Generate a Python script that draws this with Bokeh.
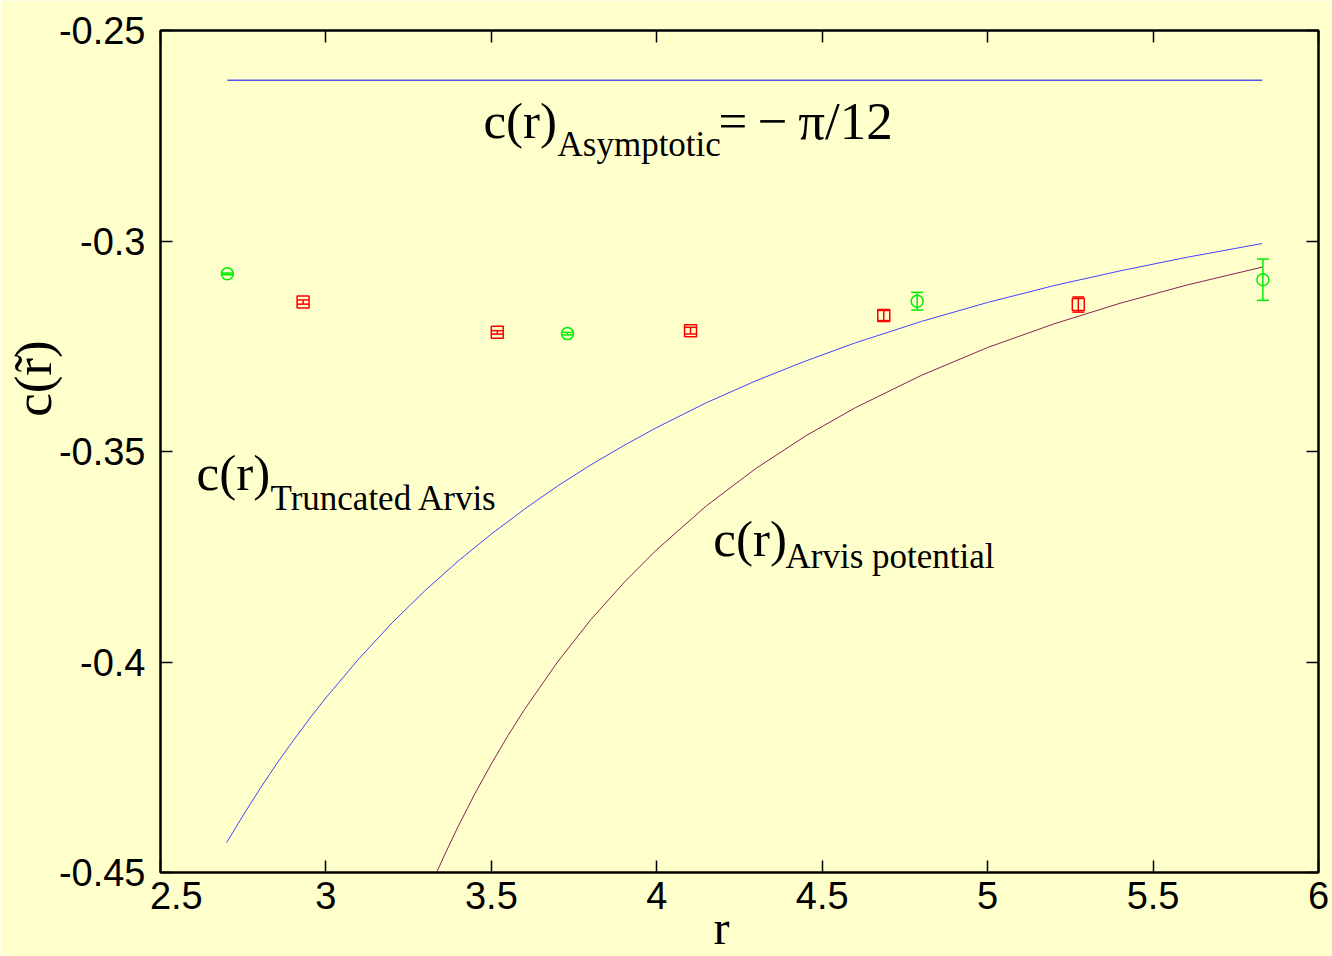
from bokeh.plotting import figure
from bokeh.models import Range1d, LinearAxis, FixedTicker, Label, Whisker, ColumnDataSource, TeeHead
from bokeh.embed import file_html
from bokeh.resources import INLINE

# ---- data ----
x_ticks = [2.5, 3, 3.5, 4, 4.5, 5, 5.5, 6]
x_tick_labels = ["\u00a0\u00a0\u00a02.5", "3", "3.5", "4", "4.5", "5", "5.5", "6"]
y_ticks = [-0.45, -0.4, -0.35, -0.3, -0.25]
y_tick_labels = ["-0.45", "-0.4", "-0.35", "-0.3", "-0.25"]
x_title = "r"
y_title = "c(r\u0303)"

green_r = [2.702, 3.730, 4.787, 5.832]
green_c = [-0.3078, -0.3220, -0.3143, -0.3092]
green_err = [0.0002, 0.0003, 0.0021, 0.0049]

red_r = [2.931, 3.518, 4.102, 4.686, 5.274]
red_c = [-0.3145, -0.3217, -0.3213, -0.3177, -0.3151]
red_err = [0.0005, 0.0004, 0.0008, 0.0012, 0.0018]

trunc_r = [2.70, 2.75, 2.80, 2.85, 2.90, 2.95, 3.00, 3.1, 3.2, 3.3, 3.4, 3.5, 3.6, 3.7, 3.8,
           3.9, 4.0, 4.15, 4.3, 4.45, 4.6, 4.8, 5.0, 5.2, 5.4, 5.6, 5.83]
trunc_c = [-0.4429, -0.4364, -0.4302, -0.4243, -0.4188, -0.4135, -0.4085, -0.3992, -0.3907,
           -0.3830, -0.3760, -0.3696, -0.3637, -0.3582, -0.3532, -0.3486, -0.3443, -0.3384,
           -0.3332, -0.3285, -0.3242, -0.3191, -0.3146, -0.3106, -0.3071, -0.3039, -0.3006]

arvis_r = [3.334, 3.36, 3.40, 3.45, 3.50, 3.55, 3.60, 3.7, 3.8, 3.9, 4.0, 4.15, 4.3, 4.45,
           4.6, 4.8, 5.0, 5.2, 5.4, 5.6, 5.83]
arvis_c = [-0.4501, -0.4456, -0.4390, -0.4313, -0.4242, -0.4175, -0.4113, -0.4000, -0.3900,
           -0.3812, -0.3733, -0.3629, -0.3540, -0.3463, -0.3396, -0.3319, -0.3253, -0.3197,
           -0.3148, -0.3105, -0.3062]

asym_r = [2.702, 5.83]
asym_c = [-0.2618, -0.2618]

BG = "#ffffcc"
SERIF = "Liberation Serif"
NB = "\u00a0"

p = figure(width=1332, height=956, x_range=Range1d(2.5, 6), y_range=Range1d(-0.45, -0.25),
           output_backend="svg", toolbar_location=None,
           background_fill_color=BG, border_fill_color=BG,
           min_border_left=160, min_border_right=14, min_border_top=30, min_border_bottom=84,
           outline_line_color="black", outline_line_width=2)
p.xgrid.visible = False
p.ygrid.visible = False


def style(ax, ticks, labels, show):
    ax.ticker = FixedTicker(ticks=ticks)
    ax.major_tick_in = 12
    ax.major_tick_out = 0
    ax.minor_tick_in = 0
    ax.minor_tick_out = 0
    ax.axis_line_width = 2
    ax.axis_line_color = "black"
    ax.major_tick_line_width = 1.5
    ax.major_tick_line_color = "black"
    ax.major_label_text_font = "Liberation Sans"
    ax.major_label_text_color = "black"
    if show:
        ax.major_label_text_font_size = "38px"
        ax.major_label_overrides = {t: l for t, l in zip(ticks, labels)}
    else:
        ax.major_label_text_font_size = "0px"
        ax.major_label_overrides = {t: "" for t in ticks}
        ax.major_label_standoff = 0


xa = p.xaxis[0]
style(xa, x_ticks, x_tick_labels, True)
xa.major_label_standoff = 2
xa.axis_label = x_title + NB * 3
xa.axis_label_text_font = SERIF
xa.axis_label_text_font_style = "normal"
xa.axis_label_text_color = "black"
xa.axis_label_text_font_size = "48px"
xa.axis_label_standoff = -19

ya = p.yaxis[0]
style(ya, y_ticks, y_tick_labels, True)
ya.major_label_standoff = 15
ya.axis_label = NB * 11 + y_title
ya.axis_label_text_font = SERIF
ya.axis_label_text_font_style = "normal"
ya.axis_label_text_color = "black"
ya.axis_label_text_font_size = "53px"
ya.axis_label_standoff = -6

top = LinearAxis()
style(top, x_ticks, x_tick_labels, False)
p.add_layout(top, "above")
right = LinearAxis()
style(right, y_ticks, y_tick_labels, False)
p.add_layout(right, "right")

# curves
p.line(asym_r, asym_c, line_color="#0000ff", line_width=1)
p.line(trunc_r, trunc_c, line_color="#4444ff", line_width=1)
p.line(arvis_r, arvis_c, line_color="#882255", line_width=1)

# data with error bars
gsrc = ColumnDataSource(dict(x=green_r, y=green_c,
                             lo=[c - e for c, e in zip(green_c, green_err)],
                             hi=[c + e for c, e in zip(green_c, green_err)]))
rsrc = ColumnDataSource(dict(x=red_r, y=red_c,
                             lo=[c - e for c, e in zip(red_c, red_err)],
                             hi=[c + e for c, e in zip(red_c, red_err)]))

for src, col in ((gsrc, "#00ee00"), (rsrc, "#ff0000")):
    w = Whisker(base="x", lower="lo", upper="hi", source=src, dimension="height",
                line_color=col, line_width=1.5,
                lower_head=TeeHead(size=12, line_color=col, line_width=1.5),
                upper_head=TeeHead(size=12, line_color=col, line_width=1.5))
    p.add_layout(w)

p.scatter("x", "y", source=gsrc, marker="circle", size=12, fill_color=None,
          line_color="#00ee00", line_width=1.5)
p.scatter("x", "y", source=rsrc, marker="square", size=12, fill_color=None,
          line_color="#ff0000", line_width=1.5)


def lab(x, y, text, size):
    p.add_layout(Label(x=x, y=y, text=text, text_font=SERIF, text_font_size=size,
                       text_color="black", text_align="left", text_baseline="alphabetic"))


# annotations
D = 0.0038
lab(3.476, -0.2754 + D, "c(r)", "51px")
lab(3.700, -0.2809 + D, "Asymptotic", "35px")
lab(4.1865, -0.2754 + D, "=", "51px")
lab(4.305, -0.2754 + D, "\u2212\u2009\u03c0/12", "53px")

lab(2.609, -0.3588 + D, "c(r)", "51px")
lab(2.8325, -0.3650 + D, "Truncated Arvis", "35px")

lab(4.171, -0.3747 + D, "c(r)", "51px")
lab(4.389, -0.3787 + D, "Arvis potential", "35px")

open("out.html", "w").write(file_html(p, INLINE))
